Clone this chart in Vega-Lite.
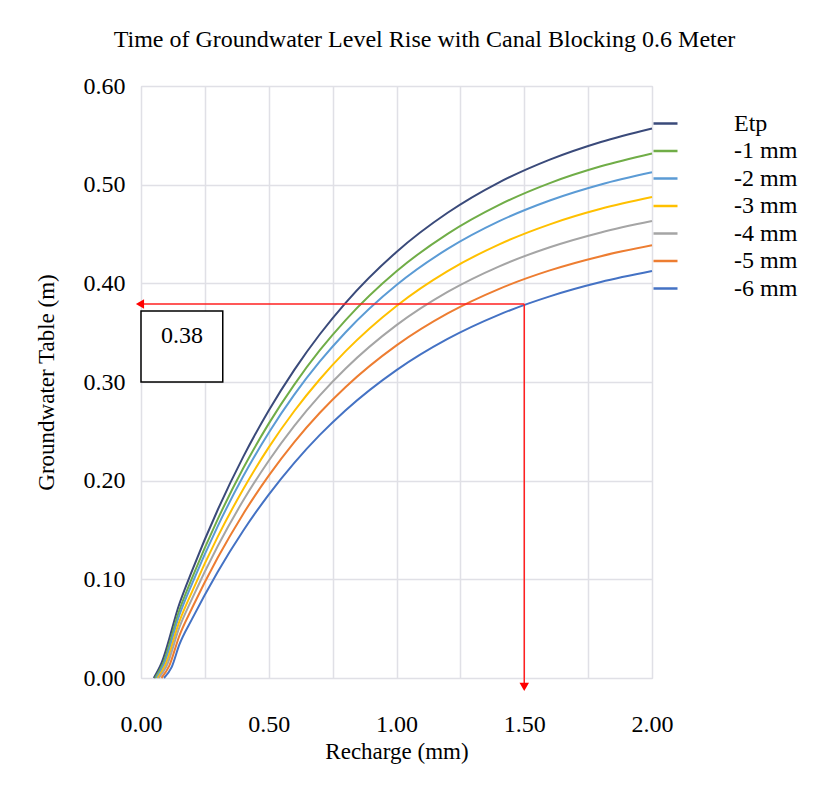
{
  "$schema": "https://vega.github.io/schema/vega-lite/v6.json",
  "autosize": {"type": "none"},
  "padding": {"left": 141, "top": 86, "right": 175, "bottom": 118},
  "width": 511,
  "height": 592,
  "background": "white",
  "title": {
    "text": "Time of Groundwater Level Rise with Canal Blocking 0.6 Meter",
    "font": "Liberation Serif",
    "fontSize": 24,
    "fontWeight": "normal",
    "color": "black",
    "anchor": "middle",
    "dx": 28,
    "offset": 22
  },
  "config": {
    "view": {"stroke": "#D9D9DE", "strokeWidth": 1},
    "axis": {
      "labelFont": "Liberation Serif",
      "labelFontSize": 24,
      "labelColor": "black",
      "titleFont": "Liberation Serif",
      "titleFontSize": 23,
      "titleFontWeight": "normal",
      "titleColor": "black",
      "ticks": false,
      "domain": false,
      "gridColor": "#E0E0E6",
      "gridWidth": 1.5
    }
  },
  "datasets": {
    "curves": [
      {"s": "Etp", "x": 0.05, "y": 0}, {"s": "Etp", "x": 0.08, "y": 0.015}, {"s": "Etp", "x": 0.15, "y": 0.0750}, {"s": "Etp", "x": 0.2, "y": 0.1089}, {"s": "Etp", "x": 0.3, "y": 0.1703}, {"s": "Etp", "x": 0.4, "y": 0.2241}, {"s": "Etp", "x": 0.5, "y": 0.2711}, {"s": "Etp", "x": 0.6, "y": 0.3123}, {"s": "Etp", "x": 0.7, "y": 0.3484}, {"s": "Etp", "x": 0.8, "y": 0.3800}, {"s": "Etp", "x": 1.0, "y": 0.4318}, {"s": "Etp", "x": 1.2, "y": 0.4715}, {"s": "Etp", "x": 1.4, "y": 0.5021}, {"s": "Etp", "x": 1.6, "y": 0.5254}, {"s": "Etp", "x": 1.8, "y": 0.5433}, {"s": "Etp", "x": 2.0, "y": 0.5570},
      {"s": "-1 mm", "x": 0.055, "y": 0}, {"s": "-1 mm", "x": 0.085, "y": 0.014}, {"s": "-1 mm", "x": 0.15, "y": 0.0686}, {"s": "-1 mm", "x": 0.2, "y": 0.1014}, {"s": "-1 mm", "x": 0.3, "y": 0.1607}, {"s": "-1 mm", "x": 0.4, "y": 0.2125}, {"s": "-1 mm", "x": 0.5, "y": 0.2578}, {"s": "-1 mm", "x": 0.6, "y": 0.2974}, {"s": "-1 mm", "x": 0.7, "y": 0.3322}, {"s": "-1 mm", "x": 0.8, "y": 0.3625}, {"s": "-1 mm", "x": 1.0, "y": 0.4122}, {"s": "-1 mm", "x": 1.2, "y": 0.4502}, {"s": "-1 mm", "x": 1.4, "y": 0.4793}, {"s": "-1 mm", "x": 1.6, "y": 0.5016}, {"s": "-1 mm", "x": 1.8, "y": 0.5186}, {"s": "-1 mm", "x": 2.0, "y": 0.5316},
      {"s": "-2 mm", "x": 0.06, "y": 0}, {"s": "-2 mm", "x": 0.09, "y": 0.014}, {"s": "-2 mm", "x": 0.15, "y": 0.0636}, {"s": "-2 mm", "x": 0.2, "y": 0.0957}, {"s": "-2 mm", "x": 0.3, "y": 0.1537}, {"s": "-2 mm", "x": 0.4, "y": 0.2044}, {"s": "-2 mm", "x": 0.5, "y": 0.2486}, {"s": "-2 mm", "x": 0.6, "y": 0.2872}, {"s": "-2 mm", "x": 0.7, "y": 0.3208}, {"s": "-2 mm", "x": 0.8, "y": 0.3502}, {"s": "-2 mm", "x": 1.0, "y": 0.3983}, {"s": "-2 mm", "x": 1.2, "y": 0.4349}, {"s": "-2 mm", "x": 1.4, "y": 0.4628}, {"s": "-2 mm", "x": 1.6, "y": 0.4840}, {"s": "-2 mm", "x": 1.8, "y": 0.5002}, {"s": "-2 mm", "x": 2.0, "y": 0.5125},
      {"s": "-3 mm", "x": 0.065, "y": 0}, {"s": "-3 mm", "x": 0.095, "y": 0.013}, {"s": "-3 mm", "x": 0.15, "y": 0.0571}, {"s": "-3 mm", "x": 0.2, "y": 0.0876}, {"s": "-3 mm", "x": 0.3, "y": 0.1430}, {"s": "-3 mm", "x": 0.4, "y": 0.1914}, {"s": "-3 mm", "x": 0.5, "y": 0.2337}, {"s": "-3 mm", "x": 0.6, "y": 0.2706}, {"s": "-3 mm", "x": 0.7, "y": 0.3028}, {"s": "-3 mm", "x": 0.8, "y": 0.3310}, {"s": "-3 mm", "x": 1.0, "y": 0.3771}, {"s": "-3 mm", "x": 1.2, "y": 0.4124}, {"s": "-3 mm", "x": 1.4, "y": 0.4393}, {"s": "-3 mm", "x": 1.6, "y": 0.4598}, {"s": "-3 mm", "x": 1.8, "y": 0.4755}, {"s": "-3 mm", "x": 2.0, "y": 0.4874},
      {"s": "-4 mm", "x": 0.07, "y": 0}, {"s": "-4 mm", "x": 0.10, "y": 0.012}, {"s": "-4 mm", "x": 0.15, "y": 0.0512}, {"s": "-4 mm", "x": 0.2, "y": 0.0805}, {"s": "-4 mm", "x": 0.3, "y": 0.1335}, {"s": "-4 mm", "x": 0.4, "y": 0.1798}, {"s": "-4 mm", "x": 0.5, "y": 0.2202}, {"s": "-4 mm", "x": 0.6, "y": 0.2556}, {"s": "-4 mm", "x": 0.7, "y": 0.2864}, {"s": "-4 mm", "x": 0.8, "y": 0.3134}, {"s": "-4 mm", "x": 1.0, "y": 0.3576}, {"s": "-4 mm", "x": 1.2, "y": 0.3913}, {"s": "-4 mm", "x": 1.4, "y": 0.4170}, {"s": "-4 mm", "x": 1.6, "y": 0.4366}, {"s": "-4 mm", "x": 1.8, "y": 0.4516}, {"s": "-4 mm", "x": 2.0, "y": 0.4631},
      {"s": "-5 mm", "x": 0.08, "y": 0}, {"s": "-5 mm", "x": 0.11, "y": 0.012}, {"s": "-5 mm", "x": 0.15, "y": 0.0428}, {"s": "-5 mm", "x": 0.2, "y": 0.0709}, {"s": "-5 mm", "x": 0.3, "y": 0.1218}, {"s": "-5 mm", "x": 0.4, "y": 0.1663}, {"s": "-5 mm", "x": 0.5, "y": 0.2051}, {"s": "-5 mm", "x": 0.6, "y": 0.2391}, {"s": "-5 mm", "x": 0.7, "y": 0.2688}, {"s": "-5 mm", "x": 0.8, "y": 0.2947}, {"s": "-5 mm", "x": 1.0, "y": 0.3371}, {"s": "-5 mm", "x": 1.2, "y": 0.3695}, {"s": "-5 mm", "x": 1.4, "y": 0.3942}, {"s": "-5 mm", "x": 1.6, "y": 0.4131}, {"s": "-5 mm", "x": 1.8, "y": 0.4275}, {"s": "-5 mm", "x": 2.0, "y": 0.4385},
      {"s": "-6 mm", "x": 0.09, "y": 0}, {"s": "-6 mm", "x": 0.12, "y": 0.011}, {"s": "-6 mm", "x": 0.15, "y": 0.0338}, {"s": "-6 mm", "x": 0.2, "y": 0.0599}, {"s": "-6 mm", "x": 0.3, "y": 0.1075}, {"s": "-6 mm", "x": 0.4, "y": 0.1493}, {"s": "-6 mm", "x": 0.5, "y": 0.1859}, {"s": "-6 mm", "x": 0.6, "y": 0.2181}, {"s": "-6 mm", "x": 0.7, "y": 0.2464}, {"s": "-6 mm", "x": 0.8, "y": 0.2712}, {"s": "-6 mm", "x": 1.0, "y": 0.3121}, {"s": "-6 mm", "x": 1.2, "y": 0.3437}, {"s": "-6 mm", "x": 1.4, "y": 0.3681}, {"s": "-6 mm", "x": 1.6, "y": 0.3868}, {"s": "-6 mm", "x": 1.8, "y": 0.4013}, {"s": "-6 mm", "x": 2.0, "y": 0.4124}
    ],
    "arrows": [
      {"x": 1.5, "x2": -0.003, "y": 0.379, "y2": 0.379},
      {"x": 1.5, "x2": 1.5, "y": 0.379, "y2": -0.008}
    ],
    "heads": [
      {"x": -0.004, "y": 0.379, "shape": "triangle-left"},
      {"x": 1.5, "y": -0.009, "shape": "triangle-down"}
    ],
    "box": [
      {"x": 0, "x2": 0.32, "y": 0.372, "y2": 0.300, "label": "0.38", "tx": 0.16, "ty": 0.347}
    ]
  },
  "layer": [
    {
      "data": {"name": "curves"},
      "mark": {"type": "line", "interpolate": "monotone", "strokeWidth": 2},
      "encoding": {
        "x": {
          "field": "x", "type": "quantitative",
          "scale": {"domain": [0, 2], "nice": false, "zero": false},
          "axis": {
            "title": "Recharge (mm)",
            "values": [0, 0.25, 0.5, 0.75, 1, 1.25, 1.5, 1.75, 2],
            "labelExpr": "abs(datum.value * 2 - round(datum.value * 2)) < 0.001 ? format(datum.value, '.2f') : ''",
            "labelPadding": 34,
            "titlePadding": 4,
            "labelFlush": false,
            "labelOverlap": false
          }
        },
        "y": {
          "field": "y", "type": "quantitative",
          "scale": {"domain": [0, 0.6], "nice": false},
          "axis": {
            "title": "Groundwater Table (m)",
            "values": [0, 0.1, 0.2, 0.3, 0.4, 0.5, 0.6],
            "format": ".2f",
            "labelPadding": 16,
            "titlePadding": 25,
            "labelFlush": false
          }
        },
        "color": {
          "field": "s", "type": "nominal",
          "scale": {
            "domain": ["Etp", "-1 mm", "-2 mm", "-3 mm", "-4 mm", "-5 mm", "-6 mm"],
            "range": ["#3A4A7A", "#70AD47", "#5B9BD5", "#FFC000", "#A5A5A5", "#ED7D31", "#4472C4"]
          },
          "legend": {
            "title": null,
            "orient": "none",
            "legendX": 511,
            "legendY": 24,
            "padding": 0,
            "symbolType": "stroke",
            "symbolSize": 576,
            "symbolStrokeWidth": 2.5,
            "labelFont": "Liberation Serif",
            "labelFontSize": 24,
            "labelColor": "black",
            "labelOffset": 55,
            "rowPadding": 1.5
          }
        }
      }
    },
    {
      "data": {"name": "box"},
      "mark": {"type": "rect", "fill": "white", "stroke": "black", "strokeWidth": 1.5},
      "encoding": {
        "x": {"field": "x", "type": "quantitative"},
        "x2": {"field": "x2"},
        "y": {"field": "y", "type": "quantitative"},
        "y2": {"field": "y2"}
      }
    },
    {
      "data": {"name": "box"},
      "mark": {"type": "text", "font": "Liberation Serif", "fontSize": 24, "color": "black"},
      "encoding": {
        "x": {"field": "tx", "type": "quantitative"},
        "y": {"field": "ty", "type": "quantitative"},
        "text": {"field": "label"}
      }
    },
    {
      "data": {"name": "arrows"},
      "mark": {"type": "rule", "color": "#FF2020", "strokeWidth": 1.5},
      "encoding": {
        "x": {"field": "x", "type": "quantitative"},
        "x2": {"field": "x2"},
        "y": {"field": "y", "type": "quantitative"},
        "y2": {"field": "y2"}
      }
    },
    {
      "data": {"name": "heads"},
      "mark": {"type": "point", "filled": true, "color": "#FF0000", "size": 90, "opacity": 1},
      "encoding": {
        "x": {"field": "x", "type": "quantitative"},
        "y": {"field": "y", "type": "quantitative"},
        "shape": {"field": "shape", "type": "nominal", "scale": null}
      }
    }
  ]
}
